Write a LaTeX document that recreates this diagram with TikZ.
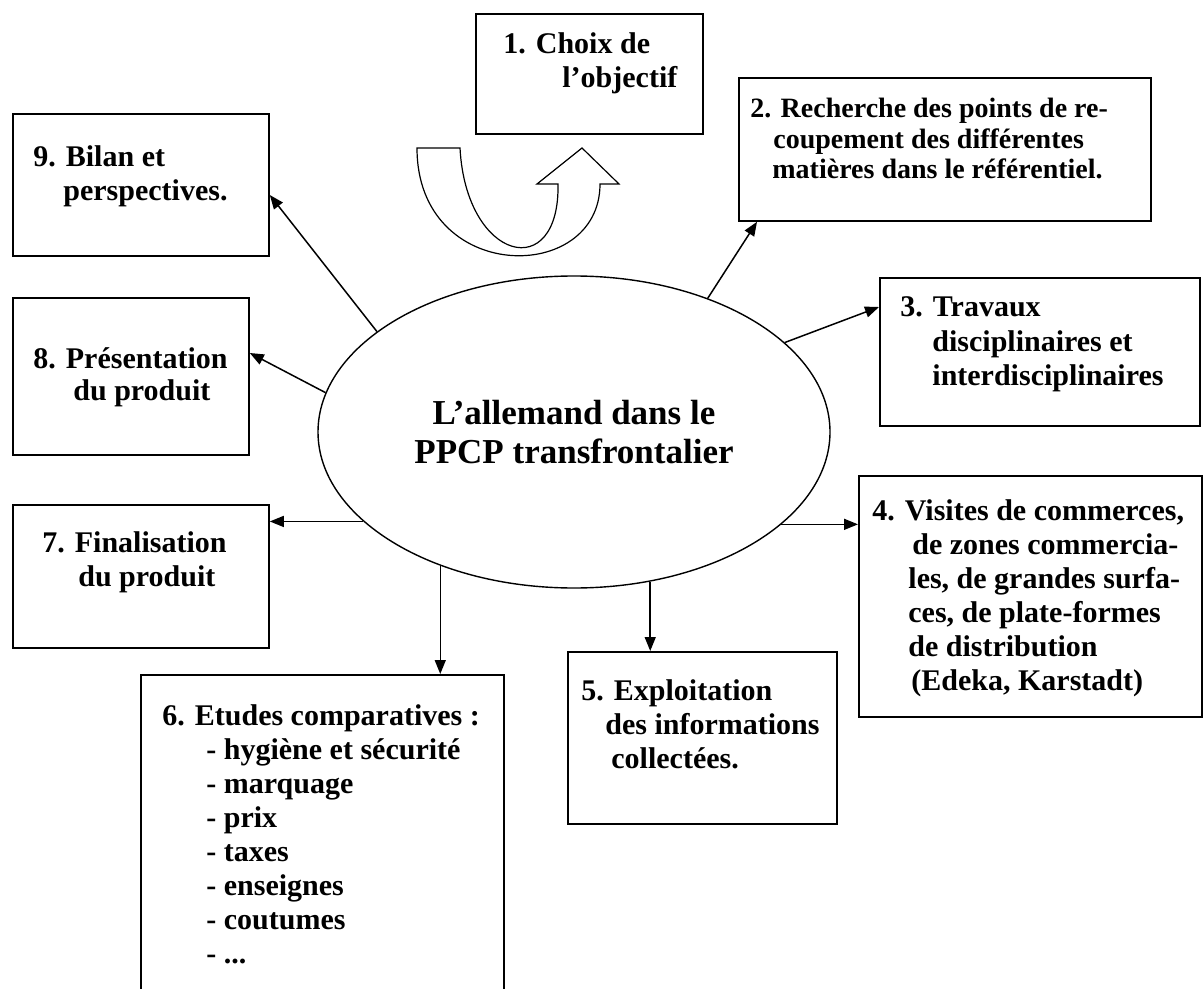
\documentclass[tikz,border=0pt]{standalone}
\usepackage{fontspec}
\setmainfont{Liberation Serif}
\usetikzlibrary{calc,arrows.meta,shapes.geometric}
\tikzset{
  stagebox/.style={draw, line width=0.9pt, anchor=north west, inner sep=0pt},
  stagetext/.style={anchor=base west, align=left, inner sep=0pt, font=\fontsize{15}{17}\selectfont\bfseries},
  hub/.style={ellipse, draw, line width=0.7pt, inner sep=0pt, align=center, font=\fontsize{17.5}{19.5}\selectfont\bfseries},
  link/.style={line width=0.75pt, -{Triangle[length=7pt,width=5.5pt]}},
  uturn/.style={draw, line width=0.6pt, fill=white},
}
\begin{document}
\begin{tikzpicture}[x=0.5pt, y=-0.5pt]
  \useasboundingbox (0,0) rectangle (1203,989);
  \fill[white] (0,0) rectangle (1203,989);
  % centre
  \node[hub, minimum width=256pt, minimum height=156pt] (ctr) at (574,432) {L’allemand dans le\\PPCP transfrontalier};
  % boxes
  \node[stagebox, minimum width=113.5pt, minimum height=60pt] (b1) at (475,13) {};
  \node[stagebox, minimum width=206pt, minimum height=71.5pt] (b2) at (738,77) {};
  \node[stagebox, minimum width=160pt, minimum height=74pt] (b3) at (879,277) {};
  \node[stagebox, minimum width=171.5pt, minimum height=120.5pt] (b4) at (858,475) {};
  \node[stagebox, minimum width=134.5pt, minimum height=86pt] (b5) at (567,651) {};
  \node[stagebox, minimum width=181.5pt, minimum height=175pt] (b6) at (140,674) {};
  \node[stagebox, minimum width=128pt, minimum height=71.5pt] (b7) at (12,504) {};
  \node[stagebox, minimum width=118pt, minimum height=78.5pt] (b8) at (12,297) {};
  \node[stagebox, minimum width=128pt, minimum height=71pt] (b9) at (12,113) {};
  % texts (placed at the baseline of their last line)
  \node[stagetext] (t1) at (503,88) {1. Choix de\\\hspace*{29.5pt}l’objectif};
  \node[stagetext, font=\fontsize{14}{15.25}\selectfont\bfseries] (t2) at (750,179)
    {2. Recherche des points de re-\\\hspace*{11.5pt}coupement des différentes\\\hspace*{11pt}matières dans le référentiel.};
  \node[stagetext] (t3) at (900,385) {3. Travaux\\\hspace*{16pt}disciplinaires et\\\hspace*{16pt}interdisciplinaires};
  \node[stagetext] (t4) at (872,690)
    {4. Visites de commerces,\\\hspace*{20pt}de zones commercia-\\\hspace*{18pt}les, de grandes surfa-\\\hspace*{18pt}ces, de plate-formes\\\hspace*{18pt}de distribution\\\hspace*{19.5pt}(Edeka, Karstadt)};
  \node[stagetext] (t5) at (581,768) {5. Exploitation\\\hspace*{12pt}des informations\\\hspace*{15pt}collectées.};
  \node[stagetext] (t6) at (162,963)
    {6. Etudes comparatives :\\\hspace*{22pt}- hygiène et sécurité\\\hspace*{22pt}- marquage\\\hspace*{22pt}- prix\\\hspace*{22pt}- taxes\\\hspace*{22pt}- enseignes\\\hspace*{22pt}- coutumes\\\hspace*{22pt}- ...};
  \node[stagetext] (t7) at (42,586) {7. Finalisation\\\hspace*{18pt}du produit};
  \node[stagetext, font=\fontsize{15}{16}\selectfont\bfseries] (t8) at (33,400) {8. Présentation\\\hspace*{20pt}du produit};
  \node[stagetext] (t9) at (33,201) {9. Bilan et\\\hspace*{15pt}perspectives.};
  % u-turn arrow under box 1
  \draw[uturn] (417,148) -- (460,148) .. controls (466,262) and (560,284) .. (558,184)
    -- (537,184) -- (582,148) -- (619,184) -- (600,184)
    .. controls (600,285) and (417,285) .. (417,148) -- cycle;
  % links
  \draw[link] (ctr.45) -- ($(b2.south west)+(19,0)$);
  \draw[link] (ctr.23.7) -- ($(b3.north west)+(0,30)$);
  \draw[link] (ctr.336.8) -- (ctr.336.8 -| b4.west);
  \draw[link] (ctr.297.6) -- (ctr.297.6 |- b5.north);
  \draw[link] (ctr.225) -- (ctr.225 |- b6.north);
  \draw[link] (ctr.203.2) -- (ctr.203.2 -| b7.east);
  \draw[link] (ctr.171.8) -- ($(b8.north east)+(0,56)$);
  \draw[link] (ctr.153.4) -- ($(b9.north east)+(0,82)$);
\end{tikzpicture}
\end{document}
